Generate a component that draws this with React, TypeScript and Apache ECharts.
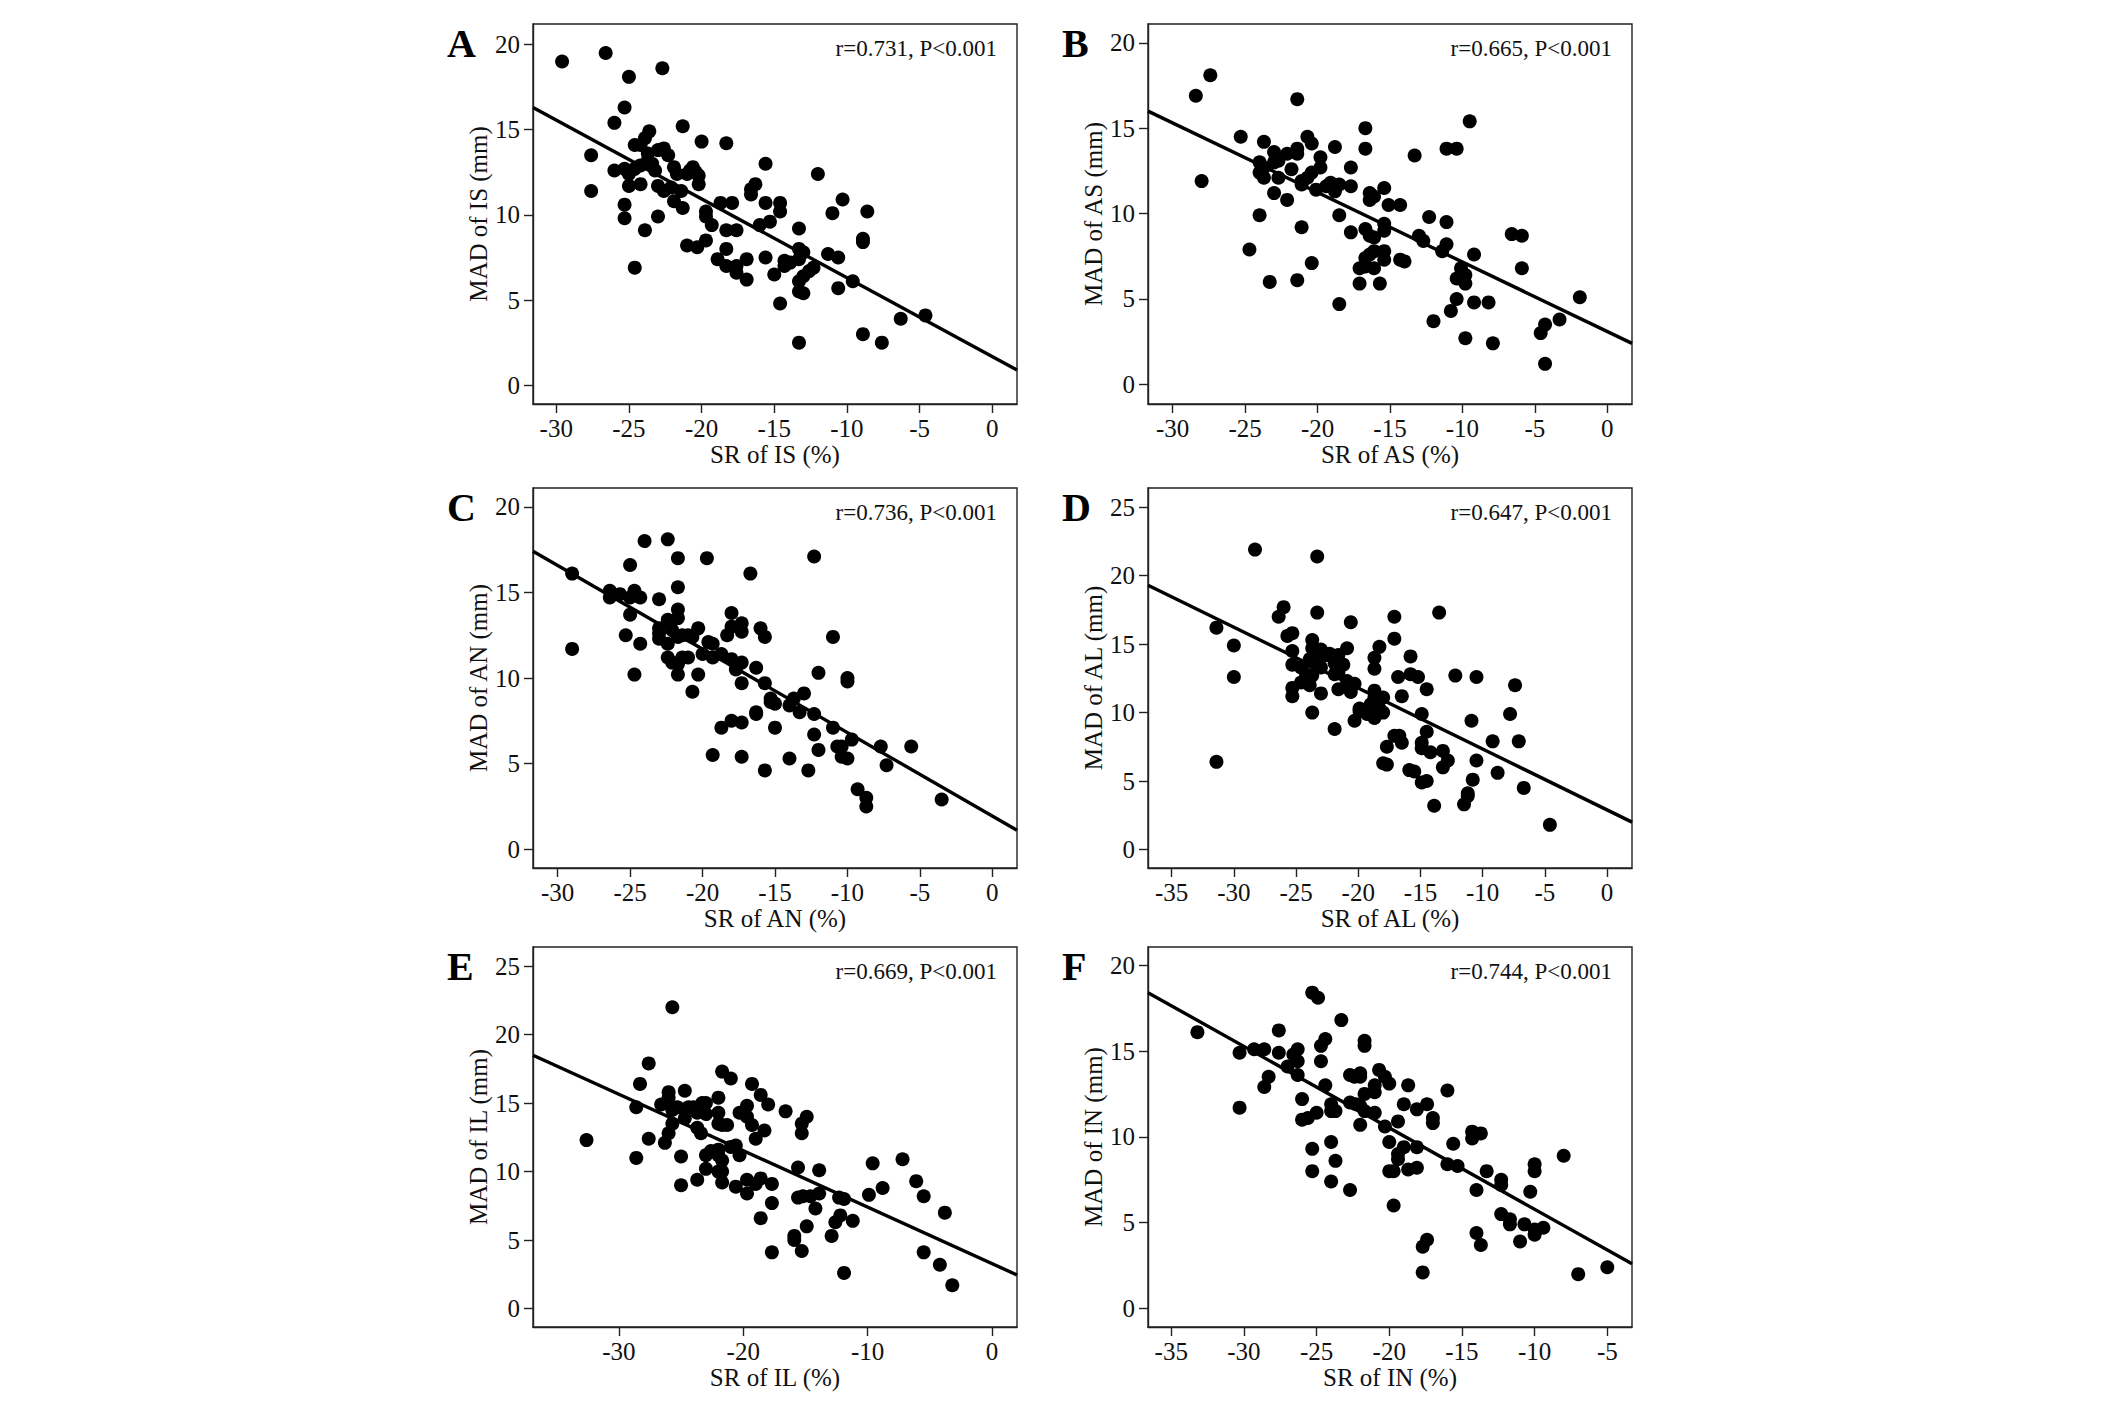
import { useEffect, useRef } from 'react'
import * as echarts from 'echarts'

// values: [SR (%), MAD (mm)]
const isPoints = [
  [-29.6, 19.0], [-26.6, 19.5], [-22.7, 18.6], [-25.0, 18.1], [-25.3, 16.3], [-26.0, 15.4], [-21.3, 15.2],
  [-23.6, 14.9], [-23.9, 14.5], [-24.6, 14.1], [-24.2, 14.1], [-20.0, 14.3], [-18.3, 14.2], [-27.6, 13.5],
  [-23.7, 13.6], [-23.0, 13.8], [-22.6, 13.9], [-22.3, 13.5], [-23.7, 13.2], [-23.4, 13.0], [-24.2, 12.9],
  [-26.0, 12.6], [-25.3, 12.7], [-24.6, 12.7], [-23.2, 12.6], [-21.9, 12.8], [-21.7, 12.4], [-21.0, 12.4],
  [-20.6, 12.8], [-20.4, 12.5], [-20.2, 12.3], [-20.8, 12.6], [-25.0, 12.4], [-25.0, 11.7], [-24.2, 11.8],
  [-23.0, 11.7], [-22.6, 11.4], [-22.1, 11.6], [-21.4, 11.4], [-20.2, 11.8], [-21.9, 10.8], [-27.6, 11.4],
  [-21.3, 10.4], [-25.3, 10.6], [-25.3, 9.8], [-23.0, 9.9], [-23.9, 9.1], [-24.6, 6.9], [-21.0, 8.2],
  [-20.3, 8.1], [-19.7, 8.5], [-19.7, 10.2], [-19.7, 9.9], [-19.3, 9.4], [-18.7, 10.7], [-17.9, 10.7],
  [-18.3, 9.1], [-17.6, 9.1], [-18.3, 8.0], [-18.9, 7.4], [-18.3, 7.0], [-17.6, 7.0], [-17.6, 6.6],
  [-16.9, 7.4], [-16.9, 6.2], [-16.6, 11.5], [-16.6, 11.2], [-16.3, 11.8], [-15.6, 13.0], [-15.6, 10.7],
  [-16.0, 9.4], [-15.3, 9.6], [-15.6, 7.5], [-15.0, 6.5], [-14.6, 10.7], [-14.6, 10.2], [-14.6, 4.8],
  [-14.3, 7.3], [-14.3, 7.0], [-13.9, 7.2], [-13.3, 9.2], [-13.3, 8.0], [-13.3, 7.4], [-13.0, 7.8],
  [-13.3, 6.1], [-13.3, 5.5], [-13.0, 5.4], [-13.0, 6.4], [-12.6, 6.7], [-12.3, 6.9], [-13.3, 2.5],
  [-12.0, 12.4], [-11.3, 7.7], [-10.6, 7.5], [-10.6, 5.7], [-11.0, 10.1], [-10.3, 10.9], [-9.6, 6.1],
  [-8.9, 8.6], [-8.9, 8.4], [-8.6, 10.2], [-8.9, 3.0], [-7.6, 2.5], [-6.3, 3.9], [-4.6, 4.1],
]

const asPoints = [
  [-28.4, 16.9], [-27.4, 18.1], [-28.0, 11.9], [-25.3, 14.5], [-24.7, 7.9], [-24.0, 13.0], [-24.0, 12.4],
  [-23.7, 14.2], [-23.7, 12.7], [-23.7, 12.1], [-24.0, 9.9], [-23.3, 6.0], [-23.0, 13.6], [-23.0, 13.0],
  [-22.7, 13.1], [-22.7, 12.1], [-23.0, 11.2], [-22.1, 13.5], [-22.1, 10.8], [-21.8, 12.6], [-21.4, 16.7],
  [-21.4, 13.8], [-21.4, 13.5], [-21.4, 6.1], [-21.1, 11.9], [-21.1, 11.7], [-21.1, 9.2], [-20.7, 14.5],
  [-20.7, 12.1], [-20.4, 14.1], [-20.4, 12.4], [-20.4, 7.1], [-20.1, 11.4], [-19.8, 13.3], [-19.8, 12.7],
  [-19.4, 11.6], [-19.1, 11.8], [-18.8, 13.9], [-18.8, 11.3], [-18.5, 11.7], [-18.5, 9.9], [-18.5, 4.7],
  [-17.7, 12.7], [-17.7, 11.6], [-17.7, 8.9], [-17.1, 6.8], [-17.1, 5.9], [-16.7, 15.0], [-16.7, 13.8],
  [-16.7, 9.1], [-16.7, 7.4], [-16.7, 6.9], [-16.4, 11.2], [-16.4, 10.8], [-16.1, 11.0], [-16.4, 8.7],
  [-16.1, 8.6], [-16.4, 7.6], [-16.1, 7.8], [-16.1, 6.8], [-15.7, 5.9], [-15.4, 11.5], [-15.4, 9.4],
  [-15.4, 9.0], [-15.4, 7.8], [-15.4, 7.3], [-15.1, 10.5], [-14.3, 10.5], [-14.3, 7.3], [-14.0, 7.2],
  [-13.3, 13.4], [-13.0, 8.7], [-12.7, 8.4], [-12.3, 9.8], [-12.0, 3.7], [-11.4, 7.8], [-11.1, 8.2],
  [-11.1, 9.5], [-11.1, 13.8], [-10.4, 13.8], [-10.8, 4.3], [-10.4, 5.0], [-10.4, 6.2], [-10.1, 6.8],
  [-9.8, 6.4], [-9.8, 5.9], [-9.8, 2.7], [-9.5, 15.4], [-9.2, 7.6], [-9.2, 4.8], [-8.2, 4.8], [-7.9, 2.4],
  [-6.6, 8.8], [-5.9, 8.7], [-5.9, 6.8], [-4.6, 3.0], [-4.3, 3.5], [-4.3, 1.2], [-3.3, 3.8], [-1.9, 5.1],
]

const anPoints = [
  [-29.0, 16.1], [-29.0, 11.7], [-26.4, 15.1], [-26.4, 14.7], [-25.7, 14.9], [-25.0, 16.6], [-25.0, 14.7],
  [-24.7, 15.1], [-24.3, 14.7], [-25.0, 13.7], [-25.3, 12.5], [-24.3, 12.0], [-24.7, 10.2], [-24.0, 18.0],
  [-23.0, 14.6], [-23.0, 12.9], [-23.0, 12.6], [-23.0, 12.3], [-22.4, 18.1], [-22.4, 13.4], [-22.4, 12.0],
  [-22.4, 11.2], [-22.1, 12.8], [-22.1, 10.9], [-21.7, 17.0], [-21.7, 15.3], [-21.7, 14.0], [-21.7, 13.5],
  [-21.7, 12.4], [-21.7, 10.8], [-21.7, 10.2], [-21.4, 12.5], [-21.4, 11.2], [-21.0, 11.2], [-21.0, 12.5],
  [-20.7, 12.4], [-20.7, 9.2], [-20.3, 12.9], [-20.3, 10.2], [-20.0, 11.4], [-19.7, 17.0], [-19.6, 12.1],
  [-19.3, 12.0], [-19.3, 11.2], [-19.3, 5.5], [-18.7, 11.4], [-18.7, 7.1], [-18.3, 12.5], [-18.0, 13.8],
  [-18.0, 13.0], [-18.0, 11.1], [-18.0, 7.5], [-17.7, 10.8], [-17.7, 10.5], [-17.3, 13.2], [-17.3, 12.7],
  [-17.3, 10.9], [-17.3, 9.7], [-17.3, 7.4], [-17.3, 5.4], [-16.7, 16.1], [-16.3, 10.6], [-16.3, 8.0],
  [-16.3, 7.9], [-16.0, 12.9], [-15.7, 12.4], [-15.7, 9.7], [-15.7, 4.6], [-15.3, 8.8], [-15.3, 8.6],
  [-15.0, 8.5], [-15.0, 7.1], [-14.0, 8.4], [-14.0, 5.3], [-13.7, 8.8], [-13.3, 8.0], [-13.0, 9.1],
  [-12.7, 4.6], [-12.3, 17.1], [-12.3, 7.9], [-12.3, 6.7], [-12.0, 10.3], [-12.0, 5.8], [-11.0, 12.4],
  [-11.0, 7.1], [-10.7, 6.0], [-10.4, 6.0], [-10.4, 5.4], [-10.0, 10.0], [-10.0, 9.8], [-10.0, 5.3],
  [-9.7, 6.4], [-9.3, 3.5], [-8.7, 3.0], [-8.7, 2.5], [-7.7, 6.0], [-7.3, 4.9], [-5.6, 6.0], [-3.5, 2.9],
]

const alPoints = [
  [-31.4, 16.2], [-31.4, 6.4], [-30.0, 14.9], [-30.0, 12.6], [-28.3, 21.9], [-26.4, 17.0], [-26.0, 17.7],
  [-25.7, 15.6], [-25.3, 15.8], [-25.3, 14.5], [-25.3, 13.5], [-25.3, 11.8], [-25.3, 11.2], [-24.6, 13.3],
  [-24.6, 12.2], [-24.2, 12.8], [-23.9, 13.9], [-23.9, 12.0], [-23.7, 15.3], [-23.7, 14.7], [-23.7, 13.7],
  [-23.7, 12.7], [-23.7, 10.0], [-23.3, 21.4], [-23.3, 17.3], [-23.3, 14.2], [-23.3, 13.5], [-23.0, 14.6],
  [-23.0, 13.3], [-23.0, 11.4], [-22.6, 14.2], [-22.3, 14.3], [-21.9, 8.8], [-21.9, 13.6], [-21.9, 12.8],
  [-21.6, 14.2], [-21.6, 13.6], [-21.6, 12.9], [-21.6, 11.7], [-21.2, 13.5], [-20.9, 14.7], [-20.9, 12.3],
  [-20.6, 16.6], [-20.6, 11.5], [-20.3, 12.1], [-20.3, 9.4], [-19.9, 10.3], [-19.9, 10.1], [-19.3, 9.9],
  [-19.0, 10.6], [-18.7, 14.0], [-18.7, 13.2], [-18.7, 11.6], [-18.7, 11.1], [-18.7, 9.6], [-18.3, 14.8],
  [-18.3, 10.3], [-18.0, 11.1], [-18.0, 10.0], [-18.0, 6.3], [-17.7, 7.5], [-17.7, 6.2], [-17.1, 17.0],
  [-17.1, 15.4], [-17.1, 8.3], [-16.8, 12.6], [-16.7, 8.3], [-16.5, 11.2], [-16.5, 7.8], [-15.9, 5.8],
  [-15.5, 5.7], [-15.8, 14.1], [-15.8, 12.8], [-15.2, 12.6], [-14.9, 9.9], [-14.9, 7.8], [-14.9, 7.4],
  [-14.9, 4.9], [-14.5, 11.7], [-14.5, 8.6], [-14.5, 5.0], [-14.2, 7.1], [-13.9, 3.2], [-13.5, 17.3],
  [-13.2, 7.2], [-13.2, 6.0], [-12.8, 6.5], [-12.2, 12.7], [-11.5, 3.3], [-11.2, 4.1], [-11.2, 3.9],
  [-10.9, 9.4], [-10.8, 5.1], [-10.5, 12.6], [-10.5, 6.5], [-9.2, 7.9], [-8.8, 5.6], [-7.8, 9.9],
  [-7.4, 12.0], [-7.1, 7.9], [-6.7, 4.5], [-4.6, 1.8],
]

const ilPoints = [
  [-32.6, 12.3], [-28.6, 14.7], [-28.6, 11.0], [-28.3, 16.4], [-27.6, 17.9], [-27.6, 12.4], [-26.6, 14.9],
  [-26.3, 12.1], [-26.0, 15.8], [-26.0, 15.4], [-26.0, 12.8], [-25.7, 22.0], [-25.7, 14.5], [-25.7, 13.5],
  [-25.3, 14.7], [-25.0, 11.1], [-25.0, 9.0], [-24.7, 15.9], [-24.7, 14.5], [-24.7, 13.9], [-24.4, 14.7],
  [-24.0, 14.7], [-23.7, 14.3], [-23.7, 13.2], [-23.7, 9.4], [-23.4, 12.8], [-23.3, 15.0], [-23.0, 15.0],
  [-23.0, 14.2], [-23.0, 11.2], [-23.0, 10.2], [-22.6, 11.5], [-22.0, 15.4], [-22.0, 14.3], [-22.0, 13.5],
  [-22.0, 11.6], [-22.0, 11.2], [-22.0, 10.0], [-21.7, 17.3], [-21.7, 13.4], [-21.7, 10.8], [-21.7, 10.0],
  [-21.7, 9.2], [-21.3, 13.4], [-21.0, 16.8], [-21.0, 11.8], [-20.6, 11.9], [-20.6, 8.9], [-20.3, 14.3],
  [-20.3, 11.2], [-19.7, 14.8], [-19.7, 14.0], [-19.7, 9.4], [-19.7, 8.4], [-19.3, 16.4], [-19.3, 13.4],
  [-19.0, 12.4], [-19.0, 9.1], [-18.6, 15.6], [-18.6, 9.5], [-18.6, 6.6], [-18.3, 13.0], [-18.0, 14.9],
  [-17.7, 9.1], [-17.7, 7.7], [-17.7, 4.1], [-16.6, 14.4], [-15.9, 5.3], [-15.9, 5.0], [-15.6, 10.3],
  [-15.6, 8.1], [-15.3, 13.5], [-15.3, 12.8], [-15.3, 4.2], [-15.2, 8.2], [-14.9, 14.0], [-14.9, 6.0],
  [-14.6, 8.2], [-14.2, 7.3], [-13.9, 10.1], [-13.9, 8.4], [-12.9, 5.3], [-12.6, 6.3], [-12.3, 8.1],
  [-12.2, 6.8], [-11.9, 8.0], [-11.9, 2.6], [-11.2, 6.4], [-9.9, 8.3], [-9.6, 10.6], [-8.8, 8.8],
  [-7.2, 10.9], [-6.1, 9.3], [-5.5, 8.2], [-5.5, 4.1], [-4.2, 3.2], [-3.8, 7.0], [-3.2, 1.7],
]

const inPoints = [
  [-33.2, 16.1], [-30.3, 14.9], [-30.3, 11.7], [-29.3, 15.1], [-28.6, 15.1], [-28.6, 12.9], [-28.3, 13.5],
  [-27.6, 16.2], [-27.6, 14.9], [-27.0, 14.1], [-26.6, 14.8], [-26.3, 15.1], [-26.3, 14.4], [-26.3, 13.6],
  [-26.0, 12.2], [-26.0, 11.0], [-25.6, 11.1], [-25.3, 18.4], [-24.9, 18.1], [-25.3, 9.3], [-25.3, 8.0],
  [-25.0, 11.4], [-24.7, 15.3], [-24.7, 14.4], [-24.4, 15.7], [-24.4, 13.0], [-24.0, 11.9], [-24.0, 11.5],
  [-24.0, 9.7], [-24.0, 7.4], [-23.7, 11.5], [-23.7, 8.6], [-23.3, 16.8], [-22.7, 13.6], [-22.7, 12.0],
  [-22.7, 6.9], [-22.4, 13.5], [-22.3, 11.9], [-22.0, 13.7], [-22.0, 13.5], [-22.0, 11.8], [-22.0, 10.7],
  [-21.7, 15.6], [-21.7, 15.3], [-21.7, 12.5], [-21.7, 11.5], [-21.0, 13.0], [-21.0, 12.6], [-21.0, 11.4],
  [-20.7, 13.9], [-20.3, 13.5], [-20.3, 10.6], [-20.0, 13.1], [-20.0, 9.7], [-20.0, 8.0], [-19.7, 8.0],
  [-19.7, 6.0], [-19.4, 10.9], [-19.4, 9.0], [-19.4, 8.7], [-19.0, 11.9], [-19.0, 9.4], [-18.7, 13.0],
  [-18.7, 8.1], [-18.1, 11.6], [-18.1, 9.4], [-18.1, 8.2], [-17.7, 3.6], [-17.7, 2.1], [-17.4, 11.9],
  [-17.4, 4.0], [-17.0, 11.1], [-17.0, 10.8], [-16.0, 12.7], [-16.0, 8.4], [-15.6, 9.6], [-15.3, 8.3],
  [-14.3, 10.3], [-14.3, 9.9], [-14.0, 6.9], [-14.0, 4.4], [-13.7, 10.2], [-13.7, 3.7], [-13.3, 8.0],
  [-12.3, 7.5], [-12.3, 7.2], [-12.3, 5.5], [-11.7, 5.2], [-11.7, 4.9], [-11.0, 3.9], [-10.7, 4.9],
  [-10.3, 6.8], [-10.0, 8.4], [-10.0, 8.0], [-10.0, 4.6], [-10.0, 4.3], [-9.4, 4.7], [-8.0, 8.9],
  [-7.0, 2.0], [-5.0, 2.4],
]

// fitted regression lines, end points at the edges of each plot
const isFit = [[-31.6, 16.3], [1.7, 0.9]]
const asFit = [[-31.7, 16.0], [1.7, 2.4]]
const anFit = [[-31.7, 17.4], [1.7, 1.1]]
const alFit = [[-36.9, 19.3], [2.0, 2.0]]
const ilFit = [[-36.9, 18.5], [2.0, 2.45]]
const inFit = [[-36.6, 18.4], [-3.3, 2.6]]

const xTicksA = [-30, -25, -20, -15, -10, -5, 0]
const xTicksD = [-35, -30, -25, -20, -15, -10, -5, 0]
const xTicksE = [-30, -20, -10, 0]
const xTicksF = [-35, -30, -25, -20, -15, -10, -5]
const yTicks20 = [0, 5, 10, 15, 20]
const yTicks25 = [0, 5, 10, 15, 20, 25]

const panels = [
  { letter: 'A', seg: 'IS', r: 'r=0.731, P<0.001', pts: isPoints, fit: isFit, x: [-31.6, 1.7], y: [-1.1, 21.2], xt: xTicksA, yt: yTicks20 },
  { letter: 'B', seg: 'AS', r: 'r=0.665, P<0.001', pts: asPoints, fit: asFit, x: [-31.7, 1.7], y: [-1.15, 21.1], xt: xTicksA, yt: yTicks20 },
  { letter: 'C', seg: 'AN', r: 'r=0.736, P<0.001', pts: anPoints, fit: anFit, x: [-31.7, 1.7], y: [-1.1, 21.1], xt: xTicksA, yt: yTicks20 },
  { letter: 'D', seg: 'AL', r: 'r=0.647, P<0.001', pts: alPoints, fit: alFit, x: [-36.9, 2.0], y: [-1.35, 26.4], xt: xTicksD, yt: yTicks25 },
  { letter: 'E', seg: 'IL', r: 'r=0.669, P<0.001', pts: ilPoints, fit: ilFit, x: [-36.9, 2.0], y: [-1.35, 26.4], xt: xTicksE, yt: yTicks25 },
  { letter: 'F', seg: 'IN', r: 'r=0.744, P<0.001', pts: inPoints, fit: inFit, x: [-36.6, -3.3], y: [-1.08, 21.06], xt: xTicksF, yt: yTicks20 },
]

const W = 2126
const H = 1421
const colLeft = [533, 1148]
const rowTop = [24, 488, 947]
const boxW = 484
const boxH = 380
const font = '"Liberation Serif", "Times New Roman", serif'

export default function App() {
  const ref = useRef<HTMLDivElement>(null)

  useEffect(() => {
    if (!ref.current) return
    const chart = echarts.init(ref.current, null, { renderer: 'svg' })

    const grid: any[] = []
    const xAxis: any[] = []
    const yAxis: any[] = []
    const series: any[] = []
    const graphic: any[] = []

    panels.forEach((p, i) => {
      const left = colLeft[i % 2]
      const top = rowTop[Math.floor(i / 2)]
      grid.push({ left, top, width: boxW, height: boxH, show: true, borderColor: '#222', borderWidth: 1.4, backgroundColor: '#fff' })
      xAxis.push({
        gridIndex: i,
        type: 'value',
        min: p.x[0],
        max: p.x[1],
        name: `SR of ${p.seg} (%)`,
        nameLocation: 'middle',
        nameGap: 37,
        nameTextStyle: { fontFamily: font, fontSize: 25, color: '#111' },
        axisLine: { show: true, onZero: false, lineStyle: { color: '#222', width: 1.4 } },
        axisTick: { show: true, length: 9, customValues: p.xt, lineStyle: { color: '#222', width: 1.4 } },
        axisLabel: { customValues: p.xt, margin: 12, fontFamily: font, fontSize: 25, color: '#111' },
        splitLine: { show: false },
      })
      yAxis.push({
        gridIndex: i,
        type: 'value',
        min: p.y[0],
        max: p.y[1],
        name: `MAD of ${p.seg} (mm)`,
        nameLocation: 'middle',
        nameGap: 38,
        nameTextStyle: { fontFamily: font, fontSize: 25, color: '#111' },
        axisLine: { show: true, onZero: false, lineStyle: { color: '#222', width: 1.4 } },
        axisTick: { show: true, length: 9, customValues: p.yt, lineStyle: { color: '#222', width: 1.4 } },
        axisLabel: { customValues: p.yt, margin: 13, fontFamily: font, fontSize: 25, color: '#111' },
        splitLine: { show: false },
      })
      series.push({
        type: 'scatter',
        xAxisIndex: i,
        yAxisIndex: i,
        data: p.pts,
        symbol: 'circle',
        symbolSize: 14,
        itemStyle: { color: '#000', opacity: 1 },
        z: 3,
      })
      series.push({
        type: 'line',
        xAxisIndex: i,
        yAxisIndex: i,
        data: p.fit,
        symbol: 'none',
        lineStyle: { color: '#000', width: 3.4 },
        z: 4,
      })
      graphic.push({
        type: 'text',
        left: left - 86,
        top: top - 1,
        style: { text: p.letter, font: `bold 40px ${font}`, fill: '#000' },
      })
      graphic.push({
        type: 'text',
        right: W - (left + boxW - 20),
        top: top + 13,
        style: { text: p.r, font: `23px ${font}`, fill: '#111' },
      })
    })

    chart.setOption({
      animation: false,
      backgroundColor: '#fff',
      grid,
      xAxis,
      yAxis,
      series,
      graphic,
    })

    return () => {
      chart.dispose()
    }
  }, [])

  return <div ref={ref} style={{ position: 'absolute', left: 0, top: 0, width: `${W}px`, height: `${H}px` }} />
}
